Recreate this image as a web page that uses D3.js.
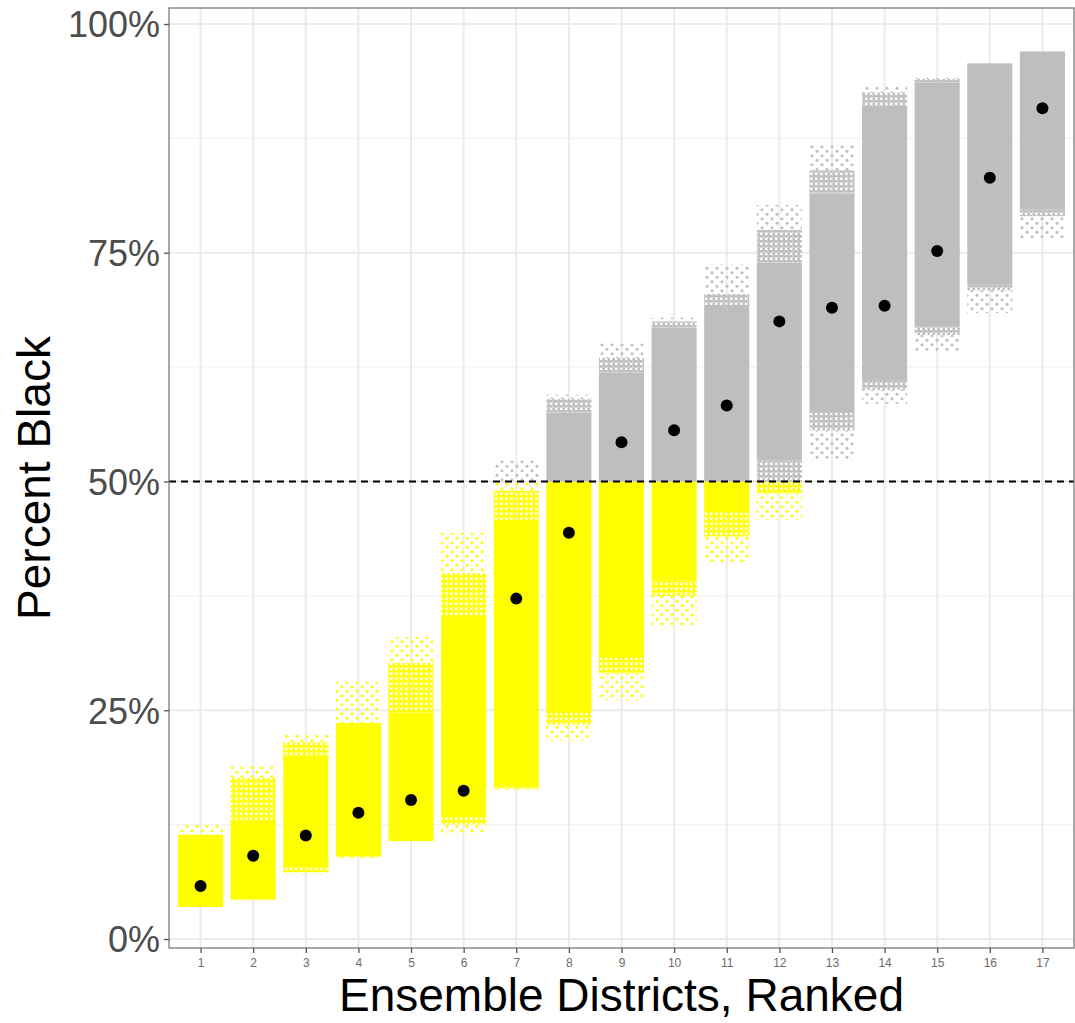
<!DOCTYPE html>
<html>
<head>
<meta charset="utf-8">
<script src="https://cdn.jsdelivr.net/npm/d3@7"></script>
<style>
  html, body { margin: 0; padding: 0; background: #ffffff; }
  svg { display: block; font-family: "Liberation Sans", Arial, sans-serif; }
</style>
</head>
<body>
<svg id="chart" width="1075" height="1023"></svg>
<script>
// ---- data (fractions of population that is Black) ----
const districts = [1, 2, 3, 4, 5, 6, 7, 8, 9, 10, 11, 12, 13, 14, 15, 16, 17];
// sparse lower tail start
const tailLo  = [0.035, 0.043, 0.070, 0.088, 0.107, 0.114, 0.163, 0.217, 0.261, 0.341, 0.410, 0.458, 0.523, 0.585, 0.642, 0.684, 0.766];
// semi-dense lower start
const semiLo  = [0.035, 0.043, 0.073, 0.090, 0.107, 0.125, 0.164, 0.234, 0.290, 0.375, 0.440, 0.487, 0.556, 0.600, 0.660, 0.709, 0.790];
// dense core
const coreLo  = [0.035, 0.043, 0.078, 0.090, 0.107, 0.133, 0.166, 0.247, 0.307, 0.392, 0.466, 0.523, 0.575, 0.611, 0.669, 0.715, 0.797];
const coreHi  = [0.114, 0.130, 0.199, 0.236, 0.247, 0.352, 0.458, 0.575, 0.619, 0.668, 0.693, 0.739, 0.815, 0.911, 0.936, 0.957, 0.970];
// semi-dense upper end
const semiHi  = [0.114, 0.176, 0.215, 0.236, 0.302, 0.400, 0.490, 0.590, 0.635, 0.675, 0.705, 0.775, 0.840, 0.925, 0.940, 0.957, 0.970];
// sparse upper tail end
const tailHi  = [0.125, 0.190, 0.223, 0.281, 0.330, 0.444, 0.523, 0.595, 0.651, 0.679, 0.737, 0.802, 0.868, 0.933, 0.942, 0.957, 0.970];
// enacted plan value (black dots)
const enacted = [0.058, 0.091, 0.113, 0.138, 0.152, 0.162, 0.372, 0.444, 0.543, 0.556, 0.583, 0.675, 0.690, 0.692, 0.752, 0.832, 0.908];

const yTicks = [0, 0.25, 0.5, 0.75, 1];
const yMinor = [0.125, 0.375, 0.625, 0.875];
const threshold = 0.5;

const xTitle = "Ensemble Districts, Ranked";
const yTitle = "Percent Black";

// ---- layout ----
const panel = { left: 169, right: 1074, top: 8, bottom: 948 };
const svg = d3.select("#chart");

const x = d3.scalePoint().domain(districts).range([panel.left, panel.right]).padding(0.6);
const y = d3.scaleLinear().domain([0, 1]).range([939, 24]);
const halfW = x.step() * 0.4 + 1.5;

const YELLOW = "#FFFF00", GREY = "#BEBEBE";

// patterns for semi-dense and sparse point areas
const defs = svg.append("defs");
function makePattern(id, color, w, h, r) {
  const p = defs.append("pattern").attr("id", id)
    .attr("patternUnits", "userSpaceOnUse").attr("width", w).attr("height", h);
  p.append("circle").attr("cx", w * 0.25).attr("cy", h * 0.25).attr("r", r).attr("fill", color);
  p.append("circle").attr("cx", w * 0.75).attr("cy", h * 0.75).attr("r", r).attr("fill", color);
  p.append("circle").attr("cx", w * 0.75).attr("cy", h * 0.25).attr("r", r * 0.9).attr("fill", color);
}
function makeSparse(id, color, w, h, r) {
  const p = defs.append("pattern").attr("id", id)
    .attr("patternUnits", "userSpaceOnUse").attr("width", w).attr("height", h);
  p.append("circle").attr("cx", w * 0.2).attr("cy", h * 0.3).attr("r", r).attr("fill", color);
  p.append("circle").attr("cx", w * 0.7).attr("cy", h * 0.8).attr("r", r).attr("fill", color);
}
makePattern("semi-y", YELLOW, 5, 5, 1.5);
makePattern("semi-g", GREY, 5, 5, 1.5);
makeSparse("tail-y", YELLOW, 10, 9, 1.5);
makeSparse("tail-g", GREY, 10, 9, 1.5);

// background panel
svg.append("rect").attr("x", panel.left).attr("y", panel.top)
  .attr("width", panel.right - panel.left).attr("height", panel.bottom - panel.top)
  .attr("fill", "#ffffff");

// grid
const grid = svg.append("g");
grid.selectAll(".ymin").data(yMinor).join("line")
  .attr("x1", panel.left).attr("x2", panel.right)
  .attr("y1", d => y(d)).attr("y2", d => y(d))
  .attr("stroke", "#F3F3F3").attr("stroke-width", 1.2);
grid.selectAll(".ymaj").data(yTicks).join("line")
  .attr("x1", panel.left).attr("x2", panel.right)
  .attr("y1", d => y(d)).attr("y2", d => y(d))
  .attr("stroke", "#EBEBEB").attr("stroke-width", 2);
grid.selectAll(".xmaj").data(districts).join("line")
  .attr("x1", d => x(d)).attr("x2", d => x(d))
  .attr("y1", panel.top).attr("y2", panel.bottom)
  .attr("stroke", "#EBEBEB").attr("stroke-width", 2);

// ensemble point clouds
const segs = [];
districts.forEach((d, i) => {
  const parts = [
    { lo: tailLo[i], hi: semiLo[i], kind: "tail" },
    { lo: semiLo[i], hi: coreLo[i], kind: "semi" },
    { lo: coreLo[i], hi: coreHi[i], kind: "core" },
    { lo: coreHi[i], hi: semiHi[i], kind: "semi" },
    { lo: semiHi[i], hi: tailHi[i], kind: "tail" }
  ];
  parts.forEach(p => {
    if (p.hi <= p.lo) return;
    const below = { lo: p.lo, hi: Math.min(p.hi, threshold) };
    const above = { lo: Math.max(p.lo, threshold), hi: p.hi };
    if (below.hi > below.lo) segs.push({ d, lo: below.lo, hi: below.hi, kind: p.kind, side: "y" });
    if (above.hi > above.lo) segs.push({ d, lo: above.lo, hi: above.hi, kind: p.kind, side: "g" });
  });
});
svg.append("g").selectAll("rect").data(segs).join("rect")
  .attr("x", s => x(s.d) - halfW)
  .attr("width", 2 * halfW)
  .attr("y", s => y(s.hi))
  .attr("height", s => Math.max(1, y(s.lo) - y(s.hi)))
  .attr("fill", s => s.kind === "core" ? (s.side === "y" ? YELLOW : GREY) : `url(#${s.kind}-${s.side})`);

// 50% dashed line
svg.append("line")
  .attr("x1", panel.left).attr("x2", panel.right)
  .attr("y1", y(threshold)).attr("y2", y(threshold))
  .attr("stroke", "#000").attr("stroke-width", 2).attr("stroke-dasharray", "7,5");

// enacted points
svg.append("g").selectAll("circle").data(districts).join("circle")
  .attr("cx", d => x(d)).attr("cy", (d, i) => y(enacted[i]))
  .attr("r", 6).attr("fill", "#000");

// panel border
svg.append("rect").attr("x", panel.left).attr("y", panel.top)
  .attr("width", panel.right - panel.left).attr("height", panel.bottom - panel.top)
  .attr("fill", "none").attr("stroke", "#7a7a7a").attr("stroke-width", 1.3);

// y axis
const yAxis = d3.axisLeft(y).tickValues(yTicks).tickFormat(d => Math.round(d * 100) + "%").tickSize(5).tickPadding(4);
const gy = svg.append("g").attr("transform", `translate(${panel.left},0)`).call(yAxis);
gy.select(".domain").remove();
gy.selectAll(".tick line").attr("stroke", "#555").attr("stroke-width", 1.3);
gy.selectAll(".tick text").attr("fill", "#4D4D4D").attr("font-size", 36)
  .attr("font-family", "Liberation Sans, Arial, sans-serif").attr("dy", "0.36em");

// x axis
const xAxis = d3.axisBottom(x).tickSize(5).tickPadding(5);
const gx = svg.append("g").attr("transform", `translate(0,${panel.bottom})`).call(xAxis);
gx.select(".domain").remove();
gx.selectAll(".tick line").attr("stroke", "#555").attr("stroke-width", 1.3);
gx.selectAll(".tick text").attr("fill", "#6b6b6b").attr("font-size", 12)
  .attr("font-family", "Liberation Sans, Arial, sans-serif");

// titles
svg.append("text").attr("x", (panel.left + panel.right) / 2).attr("y", 1011)
  .attr("text-anchor", "middle").attr("font-size", 46).attr("fill", "#000").text(xTitle);
svg.append("text")
  .attr("transform", `translate(50,${(panel.top + panel.bottom) / 2}) rotate(-90)`)
  .attr("text-anchor", "middle").attr("font-size", 46).attr("fill", "#000").text(yTitle);
</script>
</body>
</html>
